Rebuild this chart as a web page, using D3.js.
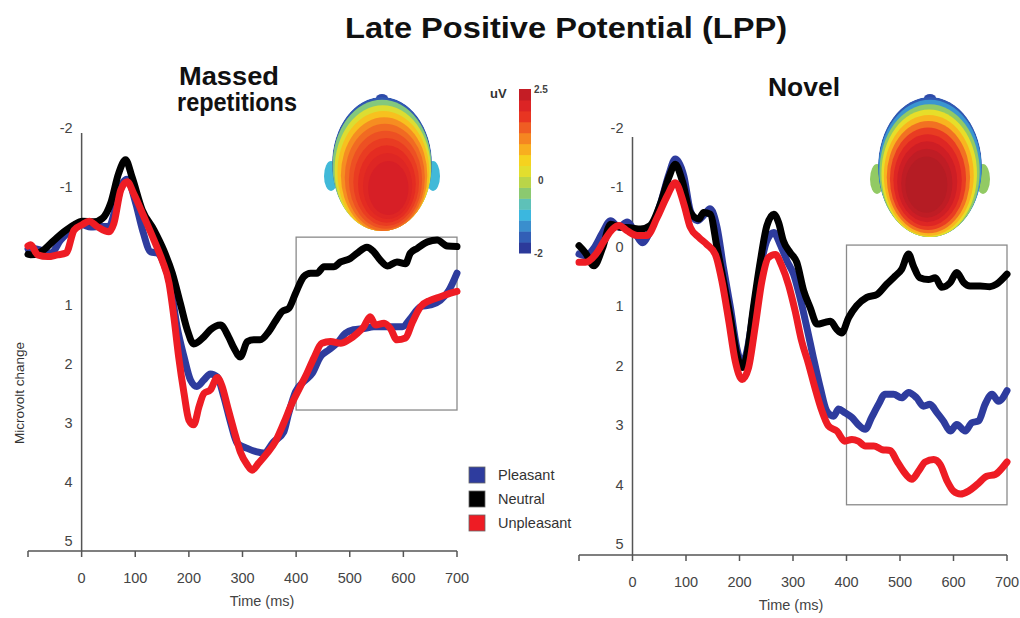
<!DOCTYPE html>
<html><head><meta charset="utf-8">
<script src="https://cdn.jsdelivr.net/npm/d3@7"></script>
<style>body{margin:0;background:#fff}svg{display:block}text{font-family:"Liberation Sans",Arial,sans-serif}</style>
</head><body>
<svg id="c" width="1020" height="618"></svg>
<script>
// ---------- DATA ----------
const xTicks = [-100, 0, 100, 200, 300, 400, 500, 600, 700];
const xTickLabels = ["", "0", "100", "200", "300", "400", "500", "600", "700"];
const yTicksMassed = [-2, -1, 1, 2, 3, 4, 5];
const yTicksNovel = [-2, -1, 0, 1, 2, 3, 4, 5];
const seriesNames = ["Pleasant", "Neutral", "Unpleasant"];
const seriesColors = ["#2e3c9e", "#000000", "#ee1c24"];
const colorbarTicks = [2.5, 0, -2];
const colorbarSteps = [-2,-1.7,-1.4,-1.1,-0.8,-0.5,-0.2,0.1,0.4,0.7,1.0,1.3,1.6,1.9,2.2];
// analysis windows [t0, t1, vTop, vBottom]
const boxMassed = [400, 700, -0.15, 2.78];
const boxNovel = [400, 700, -0.03, 4.34];

const massedPleasant = [[-100,0.05],[-95,0.04],[-76,0.07],[-57,0.12],[-39,-0.10],[-20,-0.27],[1,-0.36],[17,-0.32],[36,-0.33],[51,-0.33],[64,-0.67],[76,-1.06],[85,-1.13],[101,-0.72],[113,-0.29],[129,0.10],[141,0.12],[153,0.29],[166,0.69],[178,1.37],[191,1.88],[203,2.27],[215,2.38],[228,2.27],[240,2.17],[253,2.22],[265,2.55],[278,3.0],[290,3.34],[309,3.43],[327,3.49],[340,3.51],[358,3.32],[377,3.15],[386,2.84],[399,2.47],[414,2.30],[430,2.16],[445,1.88],[461,1.76],[476,1.65],[492,1.48],[507,1.42],[526,1.40],[545,1.37],[564,1.37],[582,1.37],[598,1.37],[613,1.23],[632,1.03],[650,1.00],[669,0.92],[685,0.75],[700,0.46]];
const massedNeutral = [[-100,0.14],[-95,0.15],[-76,0.10],[-51,-0.10],[-33,-0.24],[-14,-0.36],[1,-0.42],[23,-0.41],[39,-0.47],[54,-0.72],[69,-1.23],[82,-1.46],[94,-1.17],[113,-0.61],[135,-0.27],[153,0.07],[169,0.46],[184,0.97],[197,1.42],[209,1.66],[228,1.54],[240,1.42],[259,1.34],[274,1.54],[284,1.73],[296,1.88],[309,1.62],[321,1.59],[333,1.59],[349,1.45],[361,1.28],[374,1.11],[386,1.06],[399,0.80],[414,0.52],[427,0.46],[439,0.46],[452,0.35],[470,0.35],[483,0.27],[501,0.21],[514,0.12],[532,0.02],[545,0.10],[557,0.24],[570,0.34],[588,0.27],[604,0.30],[613,0.12],[626,0.04],[645,-0.07],[663,-0.10],[682,0.0],[700,0.01]];
const massedUnpleasant = [[-100,0.0],[-95,-0.02],[-82,0.15],[-63,0.18],[-45,0.15],[-29,0.12],[-14,-0.27],[1,-0.36],[14,-0.42],[29,-0.33],[51,-0.24],[60,-0.38],[73,-0.95],[85,-1.09],[97,-0.89],[116,-0.50],[135,-0.10],[150,0.24],[163,0.63],[172,1.20],[181,1.88],[191,2.50],[200,2.95],[209,3.03],[219,2.72],[228,2.50],[240,2.44],[253,2.23],[262,2.38],[272,2.72],[284,3.12],[296,3.49],[309,3.71],[318,3.80],[330,3.68],[346,3.51],[361,3.32],[377,3.0],[392,2.67],[408,2.38],[420,2.16],[433,1.90],[448,1.65],[464,1.62],[483,1.65],[498,1.59],[514,1.48],[526,1.37],[538,1.20],[548,1.34],[564,1.31],[576,1.40],[588,1.59],[604,1.56],[616,1.31],[632,1.03],[650,0.92],[669,0.86],[688,0.80],[700,0.77]];

const novelPleasant = [[-100,0.12],[-88,0.15],[-72,0.02],[-56,-0.24],[-41,-0.44],[-25,-0.33],[-10,-0.42],[6,-0.22],[18,-0.07],[33,-0.26],[52,-0.72],[68,-1.22],[80,-1.48],[96,-1.19],[108,-0.61],[121,-0.44],[133,-0.53],[145,-0.64],[158,-0.33],[170,0.35],[183,1.02],[195,1.70],[205,1.97],[214,1.75],[226,1.08],[239,0.35],[251,-0.10],[264,-0.24],[276,-0.04],[289,0.24],[301,0.46],[313,0.85],[326,1.36],[338,1.86],[351,2.37],[363,2.76],[376,2.85],[385,2.73],[397,2.79],[410,2.87],[422,2.99],[435,3.07],[447,2.87],[460,2.65],[472,2.48],[488,2.48],[503,2.54],[516,2.45],[531,2.54],[544,2.68],[556,2.65],[569,2.79],[581,2.93],[594,3.10],[606,2.99],[622,3.10],[634,2.96],[647,2.93],[659,2.65],[672,2.48],[684,2.60],[700,2.42]];
const novelNeutral = [[-100,-0.02],[-88,0.10],[-72,0.32],[-56,0.02],[-41,-0.38],[-22,-0.33],[-4,-0.32],[15,-0.30],[33,-0.36],[52,-0.72],[68,-1.17],[80,-1.39],[93,-1.11],[108,-0.58],[124,-0.47],[133,-0.58],[145,-0.55],[158,0.01],[170,0.57],[183,1.19],[195,1.81],[205,2.03],[214,1.81],[226,1.02],[239,0.24],[251,-0.35],[264,-0.55],[273,-0.41],[282,-0.10],[295,0.10],[307,0.26],[320,0.74],[332,1.02],[345,1.30],[360,1.27],[370,1.25],[382,1.39],[391,1.45],[404,1.19],[419,0.99],[438,0.85],[457,0.80],[475,0.63],[491,0.49],[503,0.38],[516,0.12],[525,0.32],[537,0.52],[553,0.55],[566,0.52],[578,0.68],[594,0.60],[606,0.43],[619,0.60],[631,0.66],[650,0.66],[668,0.67],[680,0.63],[700,0.46]];
const novelUnpleasant = [[-100,0.26],[-88,0.26],[-69,0.13],[-53,-0.10],[-37,-0.30],[-25,-0.36],[-10,-0.27],[9,-0.19],[27,-0.19],[46,-0.49],[65,-0.86],[80,-1.08],[96,-0.72],[108,-0.33],[124,-0.16],[139,-0.04],[155,0.13],[167,0.57],[180,1.25],[192,1.92],[205,2.23],[217,2.03],[229,1.36],[242,0.57],[254,0.18],[267,0.13],[279,0.32],[292,0.65],[304,1.08],[316,1.58],[329,1.97],[341,2.37],[354,2.76],[366,3.01],[382,3.10],[397,3.27],[410,3.24],[422,3.27],[435,3.35],[451,3.35],[466,3.41],[482,3.43],[494,3.60],[506,3.77],[522,3.91],[535,3.77],[547,3.62],[563,3.58],[575,3.66],[588,3.94],[600,4.11],[613,4.16],[628,4.11],[644,4.0],[662,3.86],[678,3.83],[690,3.73],[700,3.62]];

// topographic rings (uV), outer -> inner
const headMassedLevels = [-0.4, 0.2, 0.7, 1.1, 1.35, 1.55, 1.7, 1.85, 2.0, 2.15];
const headNovelLevels = [-1.2, -0.3, 0.3, 0.8, 1.3, 1.7, 2.0, 2.25, 2.4, 2.55];

// ---------- DRAW ----------
const svg = d3.select("#c");
const axisColor = "#555";
const textColor = "#444";

function boldText(x, y, size, len, str) {
  svg.append("text").attr("x", x).attr("y", y).attr("text-anchor", "middle")
    .attr("font-size", size).attr("font-weight", "bold").attr("fill", "#111")
    .attr("textLength", len).attr("lengthAdjust", "spacingAndGlyphs").text(str);
}
boldText(566, 38, 29, 442, "Late Positive Potential (LPP)");
boldText(229, 85, 25, 100, "Massed");
boldText(237, 111, 25, 120, "repetitions");
boldText(804, 96, 25, 72, "Novel");

// colour scale (jet-like)
const jetStops = ["#2a2a8a","#2f4fae","#3a86c9","#3ab7e0","#62c2b3","#97cb5c","#cfdb3c","#f4e01f","#f8b91f","#f68b21","#ef5b23","#e62e22","#d71f26","#b51c24"];
const jet = d3.scaleLinear().domain(d3.range(jetStops.length).map(i => -2 + 4.5 * i / (jetStops.length - 1))).range(jetStops).clamp(true);

// colourbar
const cbY = d3.scaleLinear().domain([-2, 2.5]).range([253, 89]);
const stepH = (cbY(-2) - cbY(2.5)) / colorbarSteps.length;
svg.append("g").selectAll("rect").data(colorbarSteps).join("rect")
  .attr("x", 519).attr("width", 12)
  .attr("y", (d, i) => cbY(-2) - (i + 1) * stepH).attr("height", stepH + 0.5)
  .attr("fill", d => jet(d + 0.15));
svg.append("g").selectAll("text").data(colorbarTicks).join("text")
  .attr("x", d => d === 0 ? 538 : 534).attr("y", d => cbY(d) + 4)
  .attr("font-size", 10).attr("font-weight", "bold").attr("fill", "#444").text(d => d);
svg.append("text").attr("x", 490).attr("y", 98).attr("font-size", 13).attr("font-weight", "bold").attr("fill", "#333").text("uV");

// heads
function drawHead(id, cx, cy, rx, ry, hx, hy, levels, earLevel) {
  const g = svg.append("g");
  const clip = svg.append("defs").append("clipPath").attr("id", id);
  clip.append("ellipse").attr("cx", cx).attr("cy", cy).attr("rx", rx).attr("ry", ry);
  [-1, 1].forEach(s => g.append("ellipse").attr("cx", cx + s * (rx + 1)).attr("cy", cy + 12)
    .attr("rx", 7).attr("ry", 15).attr("fill", jet(earLevel)));
  g.append("ellipse").attr("cx", cx).attr("cy", cy - ry + 1).attr("rx", 6).attr("ry", 4).attr("fill", jet(-1.7));
  const inner = g.append("g").attr("clip-path", `url(#${id})`);
  inner.append("ellipse").attr("cx", cx).attr("cy", cy).attr("rx", rx).attr("ry", ry).attr("fill", jet(-1.6));
  const n = levels.length;
  levels.forEach((lv, i) => {
    const f = i / n;
    const s = 0.99 - 0.68 * Math.pow(f, 1.4);
    inner.append("ellipse")
      .attr("cx", cx + (hx - cx) * f).attr("cy", cy + 2 + (hy - cy - 2) * Math.pow(f, 0.8))
      .attr("rx", rx * s).attr("ry", ry * s)
      .attr("fill", jet(lv));
  });
}
drawHead("hm", 382, 164, 50, 67, 389, 190, headMassedLevels, -0.9);
drawHead("hn", 930, 167, 52, 70, 926, 186, headNovelLevels, -0.3);

// panels
function panel(cfg) {
  const x = d3.scaleLinear().domain([-100, 700]).range(cfg.xr);
  const y = d3.scaleLinear().domain([-2, 5]).range(cfg.yr);
  const g = svg.append("g");
  g.append("line").attr("x1", x(0)).attr("x2", x(0)).attr("y1", cfg.yTop).attr("y2", cfg.axisY)
    .attr("stroke", axisColor).attr("stroke-width", 1.5);
  g.selectAll(".yl").data(cfg.yTicks).join("text").attr("class", "yl")
    .attr("x", x(0) - 9).attr("y", d => y(d) + 5).attr("text-anchor", "end")
    .attr("font-size", 14.5).attr("fill", textColor).text(d => d);
  g.append("line").attr("x1", x(-100)).attr("x2", x(700)).attr("y1", cfg.axisY).attr("y2", cfg.axisY)
    .attr("stroke", axisColor).attr("stroke-width", 1.5);
  g.selectAll(".xt").data(xTicks).join("line").attr("class", "xt")
    .attr("x1", d => x(d)).attr("x2", d => x(d)).attr("y1", cfg.axisY).attr("y2", cfg.axisY + 6)
    .attr("stroke", axisColor).attr("stroke-width", 1.5);
  g.selectAll(".xl").data(xTicks).join("text").attr("class", "xl")
    .attr("x", d => x(d)).attr("y", cfg.axisY + 32).attr("text-anchor", "middle")
    .attr("font-size", 14.5).attr("fill", textColor).text((d, i) => xTickLabels[i]);
  g.append("text").attr("x", cfg.xTitleX).attr("y", cfg.axisY + 55).attr("text-anchor", "middle")
    .attr("font-size", 14.5).attr("fill", textColor).text("Time (ms)");
  const b = cfg.box;
  g.append("rect").attr("x", x(b[0])).attr("y", y(b[2])).attr("width", x(b[1]) - x(b[0])).attr("height", y(b[3]) - y(b[2]))
    .attr("fill", "none").attr("stroke", "#8a8a8a").attr("stroke-width", 1.3);
  const line = d3.line().x(d => x(d[0])).y(d => y(d[1])).curve(d3.curveMonotoneX);
  cfg.series.forEach((s, i) => {
    g.append("path").attr("d", line(s)).attr("fill", "none").attr("stroke", seriesColors[i])
      .attr("stroke-width", 7).attr("stroke-linejoin", "round").attr("stroke-linecap", "round");
  });
}
panel({xr: [28, 457], yr: [128, 541], axisY: 551, yTop: 133, yTicks: yTicksMassed, xTitleX: 262, box: boxMassed,
  series: [massedPleasant, massedNeutral, massedUnpleasant]});
panel({xr: [579, 1007], yr: [128, 544], axisY: 555, yTop: 137, yTicks: yTicksNovel, xTitleX: 791, box: boxNovel,
  series: [novelPleasant, novelNeutral, novelUnpleasant]});

svg.append("text").attr("transform", "translate(24,393) rotate(-90)").attr("text-anchor", "middle")
  .attr("font-size", 13.5).attr("fill", "#333").text("Microvolt change");

const lg = svg.append("g");
seriesNames.forEach((n, i) => {
  lg.append("rect").attr("x", 469).attr("y", 467 + i * 24).attr("width", 16).attr("height", 16)
    .attr("fill", seriesColors[i]).attr("stroke", "#666").attr("stroke-width", 0.8);
  lg.append("text").attr("x", 498).attr("y", 480 + i * 24).attr("font-size", 14.5).attr("fill", "#333").text(n);
});
</script>
</body></html>
